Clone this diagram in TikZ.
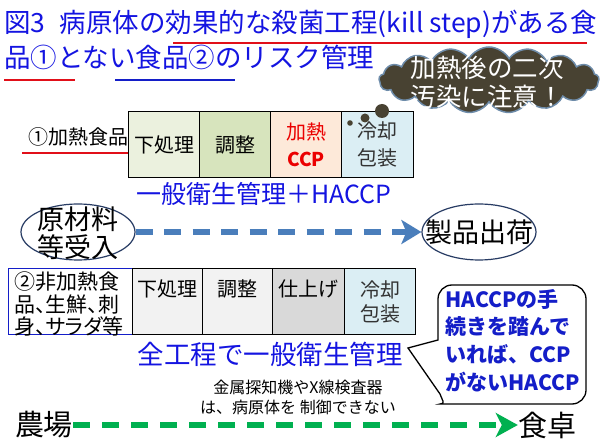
\documentclass[tikz,border=0pt]{standalone}
\usepackage{fontspec}
\setmainfont{Noto Sans CJK JP}
\newfontfamily\pfont[RawFeature=+palt]{Noto Sans CJK JP}
\usetikzlibrary{shapes.symbols,shapes.geometric,arrows.meta}
\definecolor{tblue}{RGB}{20,20,225}
\definecolor{ured}{RGB}{225,15,25}
\definecolor{ublue}{RGB}{20,30,200}
\definecolor{ccpred}{RGB}{235,0,0}
\definecolor{c11}{RGB}{235,241,222}
\definecolor{c12}{RGB}{215,228,189}
\definecolor{c13}{RGB}{253,233,217}
\definecolor{c14}{RGB}{219,238,244}
\definecolor{c21}{RGB}{242,242,242}
\definecolor{c23}{RGB}{217,217,217}
\definecolor{cloudc}{RGB}{72,66,50}
\definecolor{cloudb}{RGB}{110,140,170}
\definecolor{arrblue}{RGB}{74,126,187}
\definecolor{arrgreen}{RGB}{0,176,80}
\definecolor{ellcol}{RGB}{40,60,100}
\newcommand\myfs[2]{\fontsize{#1}{#2}\selectfont}
\begin{document}
\begin{tikzpicture}[x=1pt,y=-1pt,
  stepbox/.style={draw=black, line width=1.4, minimum height=66, inner sep=1, align=center, anchor=north west, font=\myfs{20}{27}},
  stepbox2/.style={draw=black, line width=1.4, minimum height=66, inner sep=1, align=center, anchor=north west, font=\myfs{20}{24}},
  ell/.style={ellipse, draw=ellcol, line width=1.2, fill=white, minimum width=114, minimum height=56, inner sep=0},
  uline/.style={line width=2.2}]
\useasboundingbox (0,0) rectangle (600,446);
\fill[white] (0,0) rectangle (600,446);

% title
\node[anchor=west, text=tblue, font=\myfs{26.5}{30}, inner sep=0] (t1) at (4,24) {図3\hspace{0.55em}病原体の効果的な殺菌工程(kill step)がある食};
\node[anchor=west, text=tblue, font=\myfs{26.5}{30}, inner sep=0] (t2) at (4,57) {品①とない食品②のリスク管理};
\draw[uline, ured] (173,43) -- (587,43);
\draw[uline, ured] (4,80) -- (75,80);
\draw[uline, ublue] (115,80) -- (235,80);

% row 1
\node[anchor=west, font=\myfs{20}{24}, inner sep=0] (l1) at (28,137) {①加熱食品};
\draw[uline, ured] (22,153) -- (130,153);
\node[stepbox, fill=c11, minimum width=71] (b11) at (128,111) {下処理};
\node[stepbox, fill=c12, minimum width=71] (b12) at (199,111) {調整};
\node[stepbox, fill=c13, minimum width=71, text=ccpred] (b13) at (270,111) {加熱\\\myfs{19}{24}\bfseries CCP};
\node[stepbox, fill=c14, minimum width=72, text=black!80] (b14) at (341,111) {冷却\\包装};
\node[text=tblue, font=\myfs{25}{28}, inner sep=0] (h1) at (264,194) {一般衛生管理＋HACCP};

% cloud (drawn over the boxes)
\node[cloud, cloud puffs=17, cloud puff arc=120, cloud ignores aspect, minimum width=220, minimum height=66, fill=cloudc, draw=cloudb, line width=1.5, inner sep=0] (cl) at (489,80) {};
\node[text=white, align=center, font=\myfs{25.5}{29}, inner sep=0] (clt) at (487,82) {加熱後の二次\\汚染に注意！};
\fill[cloudc] (382,111) circle (7);
\fill[cloudc] (365,118) circle (4.5);
\fill[cloudc] (350,123) circle (2.8);

% ellipses and blue arrow
\node[ell] (e1) at (78,232) {};
\node[font=\myfs{27}{28}, align=center, inner sep=0] (e1t) at (78,233) {原材料\\等受入};
\node[ell] (e2) at (479,232) {};
\node[font=\myfs{27}{28}, inner sep=0] (e2t) at (479,232) {製品出荷};
\draw[arrblue, line width=6, dash pattern=on 17 off 11.5, -{Stealth[length=20,width=24,inset=5]}] (e1.east) -- (e2.west);

% row 2
\node[draw=ublue, line width=1.4, minimum width=124, minimum height=66, anchor=north west, inner sep=0] (lab2) at (8,268) {};
\node[anchor=north west, align=left, font=\pfont\myfs{21}{22.5}, inner sep=0] (lab2t) at (14,272) {②非加熱食\\品、生鮮、刺\\身、サラダ等};
\node[stepbox2, fill=c21, minimum width=70] (b21) at (132,268) {下処理\\[4pt]};
\node[stepbox2, fill=c21, minimum width=70] (b22) at (202,268) {調整\\[4pt]};
\node[stepbox2, fill=c23, minimum width=72] (b23) at (272,268) {仕上げ\\[4pt]};
\node[stepbox2, fill=c14, minimum width=71, text=black!80] (b24) at (344,268) {冷却\\包装};
\node[text=tblue, font=\myfs{26.5}{28}, inner sep=0] (h2) at (270,354) {全工程で一般衛生管理};

% speech bubble
\draw[line width=1.3, fill=white] (438,340) [rounded corners=14] -- (438,285) -- (586,285) -- (586,404) -- (454,404) [sharp corners] .. controls (446,404) and (442,400) .. (440,394) -- (408,348) -- cycle;
\node[anchor=north west, align=left, text=ublue, font=\myfs{21}{27.7}\bfseries, inner sep=0] (bt) at (445,289) {HACCPの手\\続きを踏んで\\いれば、CCP\\がないHACCP};

% small note
\node[align=center, font=\myfs{16}{20}, inner sep=0] (note) at (298,397) {金属探知機やX線検査器\\は、病原体を 制御できない};

% bottom arrow
\node[font=\myfs{29}{30}, inner sep=0] (farm) at (44,425) {農場};
\node[font=\myfs{29}{30}, inner sep=0] (table) at (547,425) {食卓};
\draw[arrgreen, line width=6.5, dash pattern=on 17 off 12, -{Stealth[length=22,width=24,inset=6]}] (farm.east) -- (table.west);
\end{tikzpicture}
\end{document}
